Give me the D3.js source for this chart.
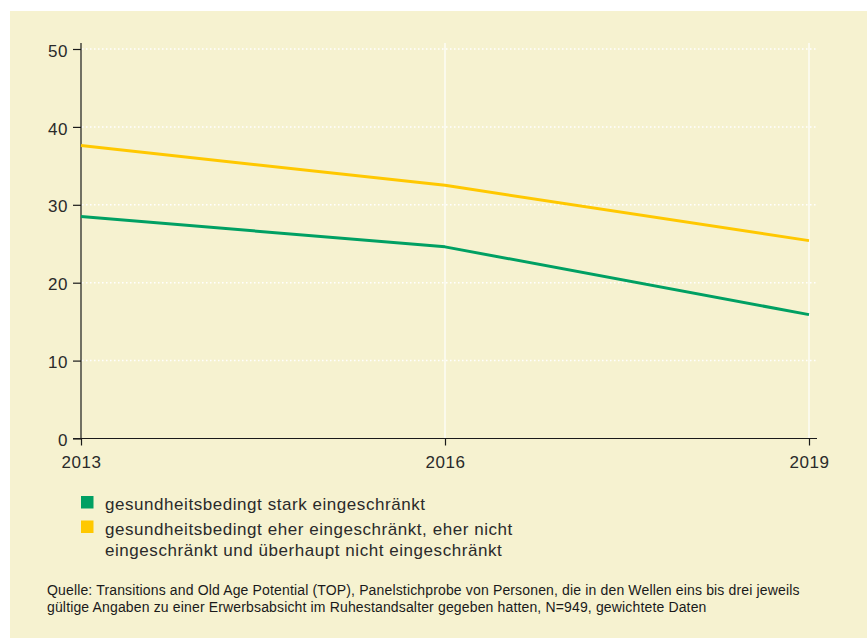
<!DOCTYPE html>
<html><head><meta charset="utf-8">
<script src="https://cdn.jsdelivr.net/npm/d3@7"></script>
<style>body{margin:0;background:#fff}svg{display:block}</style>
</head><body>
<script>
const years = [2013, 2016, 2019];
const seriesNames = ["gesundheitsbedingt stark eingeschränkt",
  "gesundheitsbedingt eher eingeschränkt, eher nicht eingeschränkt und überhaupt nicht eingeschränkt"];
const starkValues = [28.5, 24.6, 15.9];
const eherValues = [37.6, 32.5, 25.4];
const yTicks = [0, 10, 20, 30, 40, 50];
const legendLines = [["gesundheitsbedingt stark eingeschränkt"],
  ["gesundheitsbedingt eher eingeschränkt, eher nicht", "eingeschränkt und überhaupt nicht eingeschränkt"]];
const sourceLines = ["Quelle: Transitions and Old Age Potential (TOP), Panelstichprobe von Personen, die in den Wellen eins bis drei jeweils",
  "gültige Angaben zu einer Erwerbsabsicht im Ruhestandsalter gegeben hatten, N=949, gewichtete Daten"];
const colors = ["#00a063", "#ffc800"];

const W = 867, H = 638;
const FONT = "'Liberation Sans', Arial, sans-serif";
const svg = d3.select("body").append("svg").attr("width", W).attr("height", H)
  .style("font-family", FONT);
svg.append("rect").attr("x", 10).attr("y", 11).attr("width", W - 10).attr("height", H - 11).attr("fill", "#f6f2d0");

const x = d3.scalePoint().domain(years).range([81, 809]);
const y = d3.scaleLinear().domain([0, 50]).range([438.5, 49]);

// horizontal dotted gridlines
svg.append("g").selectAll("line").data(yTicks.filter(d => d > 0)).join("line")
  .attr("x1", 82).attr("x2", 817).attr("y1", d => y(d)).attr("y2", d => y(d))
  .attr("stroke", "#fff").attr("stroke-width", 1.5).attr("stroke-dasharray", "1.5 2.5");
// vertical white gridlines
svg.append("g").selectAll("line").data(years.slice(1)).join("line")
  .attr("x1", d => x(d)).attr("x2", d => x(d)).attr("y1", 43).attr("y2", y(0))
  .attr("stroke", "#fff").attr("stroke-width", 1.2);

// axes
const yAxis = svg.append("g").attr("transform", "translate(81,0)")
  .call(d3.axisLeft(y).tickValues(yTicks).tickSize(8).tickPadding(5).tickSizeOuter(0));
yAxis.select(".domain").attr("d", `M0,43V${y(0)}`);
const xAxis = svg.append("g").attr("transform", `translate(0,${y(0)})`)
  .call(d3.axisBottom(x).tickValues(years).tickFormat(d3.format("d")).tickSize(7).tickPadding(8).tickSizeOuter(0));
xAxis.select(".domain").attr("d", "M73,0H817");
[yAxis, xAxis].forEach(g => {
  g.selectAll("path,line").attr("stroke", "#1a1a1a").attr("stroke-width", 1.2);
  g.selectAll("text").attr("fill", "#2a2a2a").style("font-size", "17px").style("font-family", FONT)
    .style("letter-spacing", "0.5px");
});
xAxis.selectAll("text").attr("dy", "0.85em");
yAxis.selectAll("text").attr("dy", "0.42em");

// lines
const line = d3.line().x((d, i) => x(years[i])).y(d => y(d));
[starkValues, eherValues].forEach((vals, i) => {
  svg.append("path").attr("d", line(vals)).attr("fill", "none")
    .attr("stroke", colors[i]).attr("stroke-width", 3).attr("stroke-linejoin", "round");
});

// legend
const legY = [496, 520.5];
legendLines.forEach((lines, i) => {
  svg.append("rect").attr("x", 81).attr("y", legY[i]).attr("width", 12.5).attr("height", 12.5).attr("fill", colors[i]);
  lines.forEach((t, j) => {
    svg.append("text").attr("x", 105).attr("y", legY[i] + 14 + j * 21.7).text(t)
      .attr("fill", "#2a2a2a").style("font-size", "17px").style("letter-spacing", "0.55px");
  });
});

// source
sourceLines.forEach((t, j) => {
  svg.append("text").attr("x", 47).attr("y", 595 + j * 16.5).text(t)
    .attr("fill", "#1a1a1a").style("font-size", "14px").style("letter-spacing", "0.15px");
});
</script>
</body></html>
